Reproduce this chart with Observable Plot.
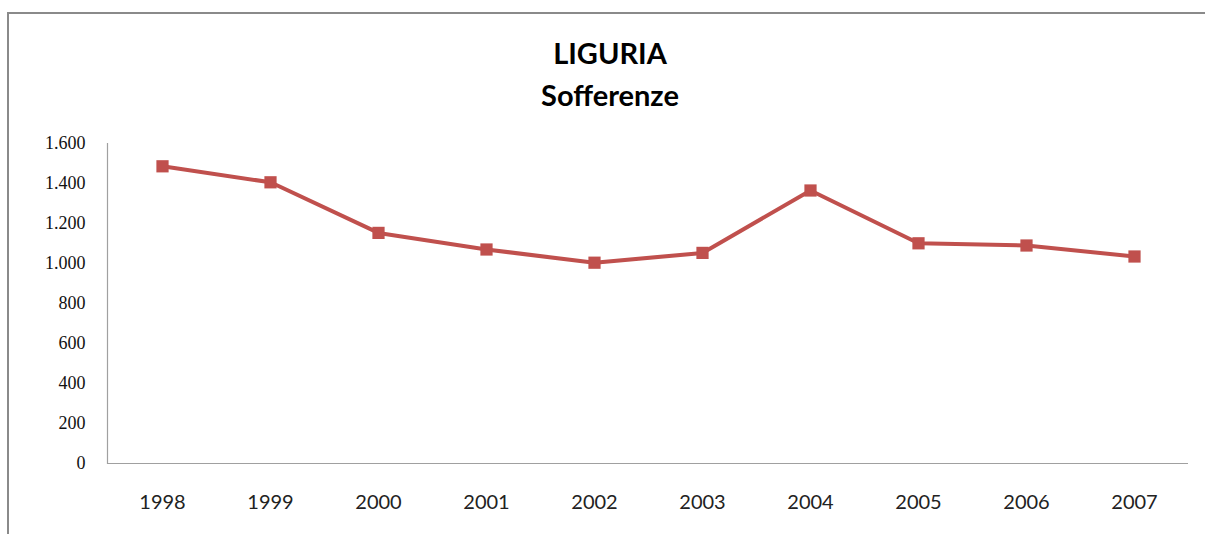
<!DOCTYPE html>
<html>
<head>
<meta charset="utf-8">
<script src="https://cdn.jsdelivr.net/npm/d3@7"></script>
<script src="https://cdn.jsdelivr.net/npm/@observablehq/plot@0.6"></script>
<style>
  html, body { margin: 0; padding: 0; background: #fff; }
  #wrap { position: relative; width: 1205px; height: 534px; overflow: hidden; }
  #border { position: absolute; left: 7px; top: 12px; right: -10px; bottom: -10px;
            border-left: 2px solid #8a8a8a; border-top: 2px solid #8a8a8a; }
  #title { position: relative; height: 125px; box-sizing: border-box; padding-top: 32px;
           text-align: center; font-family: Lato, sans-serif; font-weight: bold;
           font-size: 29px; line-height: 42px; color: #000; padding-left: 15px; }
  #chart { position: relative; }
</style>
</head>
<body>
<div id="wrap">
  <div id="border"></div>
  <div id="title">LIGURIA<br>Sofferenze</div>
  <div id="chart"></div>
</div>
<script>
const years = ["1998","1999","2000","2001","2002","2003","2004","2005","2006","2007"];
const values = [1486, 1406, 1153, 1070, 1004, 1053, 1365, 1101, 1090, 1035];
const yTicks = [0, 200, 400, 600, 800, 1000, 1200, 1400, 1600];

const data = years.map((y, i) => ({year: y, value: values[i]}));
const it = d3.formatLocale({decimal: ",", thousands: ".", grouping: [3], currency: ["€", ""]});
const fmt = it.format(",d");
const red = "#C0504D";

const plot = Plot.plot({
  width: 1205,
  height: 409,
  marginLeft: 107,
  marginRight: 17,
  marginTop: 18,
  marginBottom: 71,
  x: {type: "point", domain: years, padding: 0.5},
  y: {domain: [0, 1600]},
  marks: [
    Plot.frame({anchor: "left", stroke: "#a0a0a0", strokeWidth: 1.2}),
    Plot.ruleY([0], {stroke: "#a0a0a0", strokeWidth: 1.2}),
    Plot.axisY(yTicks, {tickSize: 0, tickPadding: 22, tickFormat: fmt, label: null,
      fontSize: 18, fontFamily: "Liberation Serif, serif", fill: "#111"}),
    Plot.axisX({tickSize: 0, tickPadding: 31, label: null,
      fontSize: 20, fontFamily: "Lato, sans-serif", fill: "#222"}),
    Plot.line(data, {x: "year", y: "value", stroke: red, strokeWidth: 4}),
    Plot.dot(data, {x: "year", y: "value", symbol: "square", r: 6.9, fill: red, stroke: "none"})
  ]
});
document.getElementById("chart").appendChild(plot);
</script>
</body>
</html>
